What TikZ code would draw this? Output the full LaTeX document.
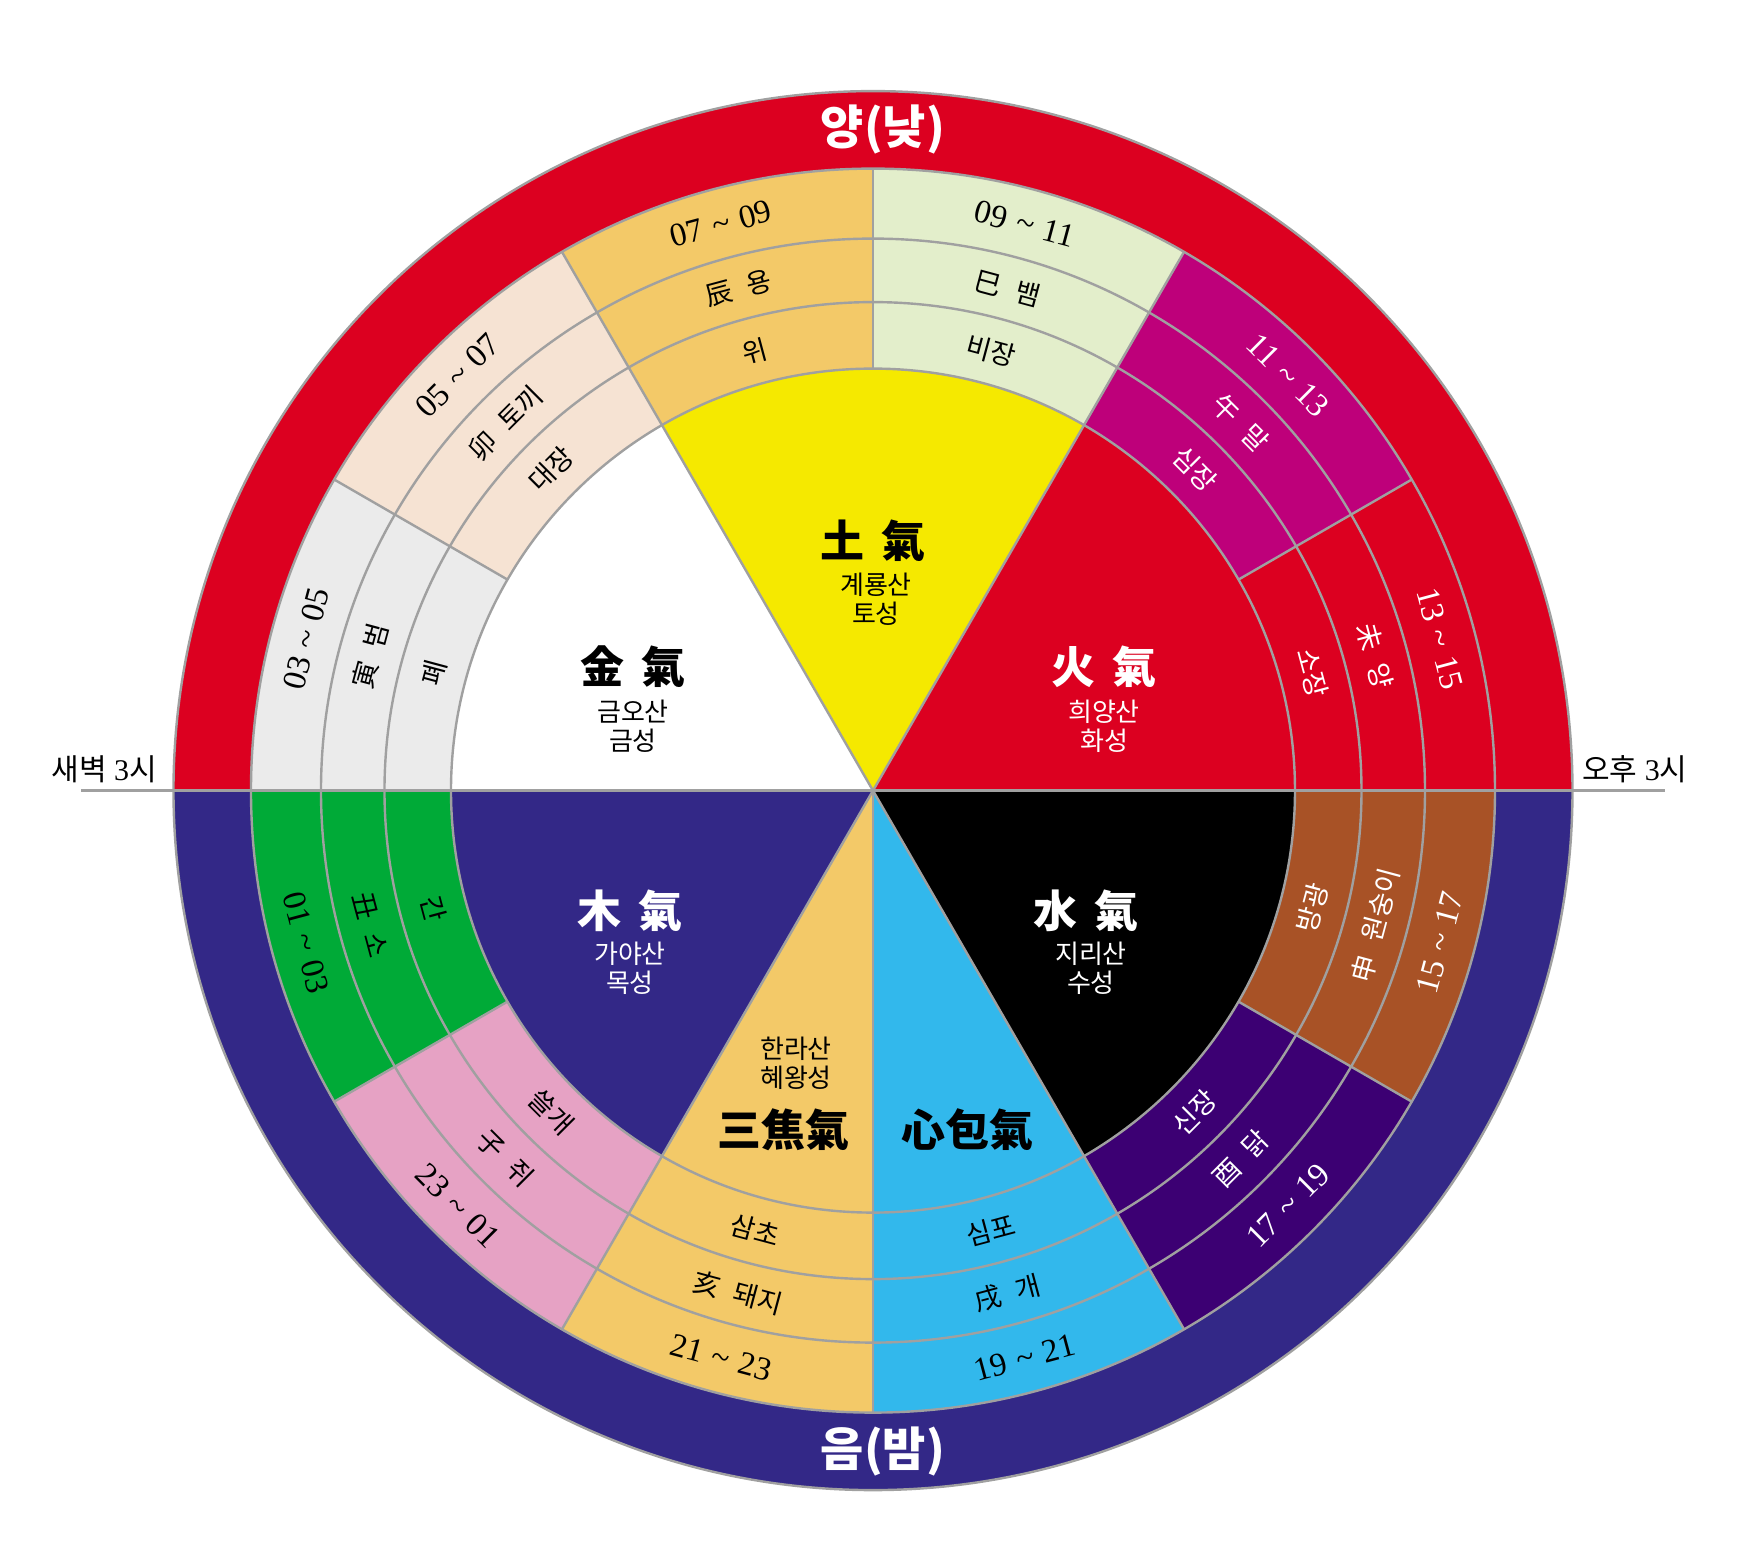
\documentclass[tikz,border=0pt]{standalone}
\usepackage{fontspec}
\setmainfont{Liberation Serif}
\newfontfamily\kr{Noto Sans CJK KR}
\definecolor{cRed}{RGB}{220,0,32}
\definecolor{cBlue}{RGB}{51,40,135}
\definecolor{cYellow}{RGB}{245,233,0}
\definecolor{cOrange}{RGB}{243,201,104}
\definecolor{cLGreen}{RGB}{227,238,203}
\definecolor{cMagenta}{RGB}{190,0,122}
\definecolor{cBrown}{RGB}{168,82,38}
\definecolor{cPurple}{RGB}{60,0,115}
\definecolor{cCyan}{RGB}{50,184,236}
\definecolor{cPink}{RGB}{230,162,196}
\definecolor{cGreen}{RGB}{0,170,55}
\definecolor{cGray}{RGB}{235,235,235}
\definecolor{cPeach}{RGB}{246,227,211}
\definecolor{cLine}{RGB}{160,160,160}
\newcommand{\gap}{\hspace{0.55em}}
\newcommand{\tl}{\hspace{0.3em}\textasciitilde\hspace{0.3em}}
\tikzset{
  ln/.style={draw=cLine, line width=2.4pt},
  numlbl/.style={font=\fontsize{33}{36}\selectfont, inner sep=0pt},
  krlbl/.style={font=\kr\fontsize{27}{30}\selectfont, inner sep=0pt},
  biglbl/.style={font=\kr\bfseries\fontsize{44}{48}\selectfont, inner sep=0pt},
  sublbl/.style={font=\kr\fontsize{26}{29}\selectfont, inner sep=0pt, align=center},
  halflbl/.style={font=\kr\bfseries\fontsize{47}{50}\selectfont, inner sep=0pt, text=white},
  sidelbl/.style={font=\fontsize{30}{32}\selectfont, inner sep=0pt},
}
\begin{document}
\begin{tikzpicture}
\useasboundingbox (-873pt,-757.4pt) rectangle (868pt,790.6pt);
% outer half rings
\fill[cRed] (0:699.5pt) arc[start angle=0,end angle=180,radius=699.5pt] -- (180:622pt) arc[start angle=180,end angle=0,radius=622pt] -- cycle;
\fill[cBlue] (180:699.5pt) arc[start angle=180,end angle=360,radius=699.5pt] -- (0:622pt) arc[start angle=360,end angle=180,radius=622pt] -- cycle;
% twelve segments
\foreach \ang/\fc in {105/cOrange,75/cLGreen,45/cMagenta,15/cRed,-15/cBrown,-45/cPurple,-75/cCyan,-105/cOrange,-135/cPink,-165/cGreen,165/cGray,135/cPeach}{
  \fill[\fc] ({\ang-15}:622pt) arc[start angle=\ang-15,end angle=\ang+15,radius=622pt] -- ({\ang+15}:422pt) arc[start angle=\ang+15,end angle=\ang-15,radius=422pt] -- cycle;
}
% pie
\foreach \st/\en/\fc in {0/60/cRed,60/120/cYellow,120/180/white,180/240/cBlue,240/270/cOrange,270/300/cCyan,300/360/black}{
  \fill[\fc] (0,0) -- (\st:422pt) arc[start angle=\st,end angle=\en,radius=422pt] -- cycle;
}
% lines
\coordinate (O) at (0,0);
\foreach \r in {699.5,622,552,488.5,422}{
  \draw[ln] (O) circle[radius=\r pt];
}
\foreach \ang in {30,60,...,330}{
  \draw[ln] (\ang:422pt) -- (\ang:622pt);
}
\foreach \ang in {60,120,240,270,300}{
  \draw[ln] (O) -- (\ang:422pt);
}
\coordinate (HL) at (-792pt,0);
\coordinate (HR) at (792pt,0);
\draw[ln] (HL) -- (HR);
% ring labels
\foreach \ang/\tc/\txo/\txm/\txi [count=\n] in {
  105/black/07\tl 09/辰\gap 용/위,
  75/black/09\tl 11/巳\gap 뱀/비장,
  45/white/11\tl 13/午\gap 말/심장,
  15/white/13\tl 15/未\gap 양/소장,
  -15/white/15\tl 17/申\gap 원숭이/방광,
  -45/white/17\tl 19/酉\gap 닭/신장,
  -75/black/19\tl 21/戌\gap 개/심포,
  -105/black/21\tl 23/亥\gap 돼지/삼초,
  -135/black/23\tl 01/子\gap 쥐/쓸개,
  -165/black/01\tl 03/丑\gap 소/간,
  165/black/03\tl 05/寅\gap 범/폐,
  135/black/05\tl 07/卯\gap 토끼/대장}{
  \pgfmathsetmacro\rot{ifthenelse(\ang>0,\ang-90,\ang+90)}
  \node[numlbl, text=\tc, rotate=\rot] (ro\n) at (\ang:587pt) {\txo};
  \node[krlbl, text=\tc, rotate=\rot] (rm\n) at (\ang:520pt) {\txm};
  \node[krlbl, text=\tc, rotate=\rot] (ri\n) at (\ang:455pt) {\txi};
}
% pie labels
\node[biglbl] (earth) at (0pt,250pt) {土\hspace{0.4em}氣};
\node[sublbl] (earthsub) at (3pt,191pt) {계룡산\\토성};
\node[biglbl, text=white] (fire) at (231pt,124pt) {火\hspace{0.4em}氣};
\node[sublbl, text=white] (firesub) at (231pt,64pt) {희양산\\화성};
\node[biglbl] (metal) at (-240pt,124pt) {金\hspace{0.4em}氣};
\node[sublbl] (metalsub) at (-240pt,64pt) {금오산\\금성};
\node[biglbl, text=white] (wood) at (-243pt,-120pt) {木\hspace{0.4em}氣};
\node[sublbl, text=white] (woodsub) at (-243pt,-178pt) {가야산\\목성};
\node[biglbl, text=white] (water) at (213pt,-120pt) {水\hspace{0.4em}氣};
\node[sublbl, text=white] (watersub) at (218pt,-178pt) {지리산\\수성};
\node[sublbl] (sjsub) at (-77pt,-273pt) {한라산\\혜왕성};
\node[biglbl] (sj) at (-89pt,-339pt) {三焦氣};
\node[biglbl] (xb) at (95pt,-339pt) {心包氣};
% half labels
\node[halflbl] (yang) at (10pt,661pt) {양(낮)};
\node[halflbl] (yin) at (10pt,-661pt) {음(밤)};
% side labels
\node[sidelbl, anchor=east] (dawn) at (-716pt,21pt) {{\kr 새벽} 3{\kr 시}};
\node[sidelbl, anchor=west] (noon) at (709pt,21pt) {{\kr 오후} 3{\kr 시}};
\end{tikzpicture}
\end{document}
